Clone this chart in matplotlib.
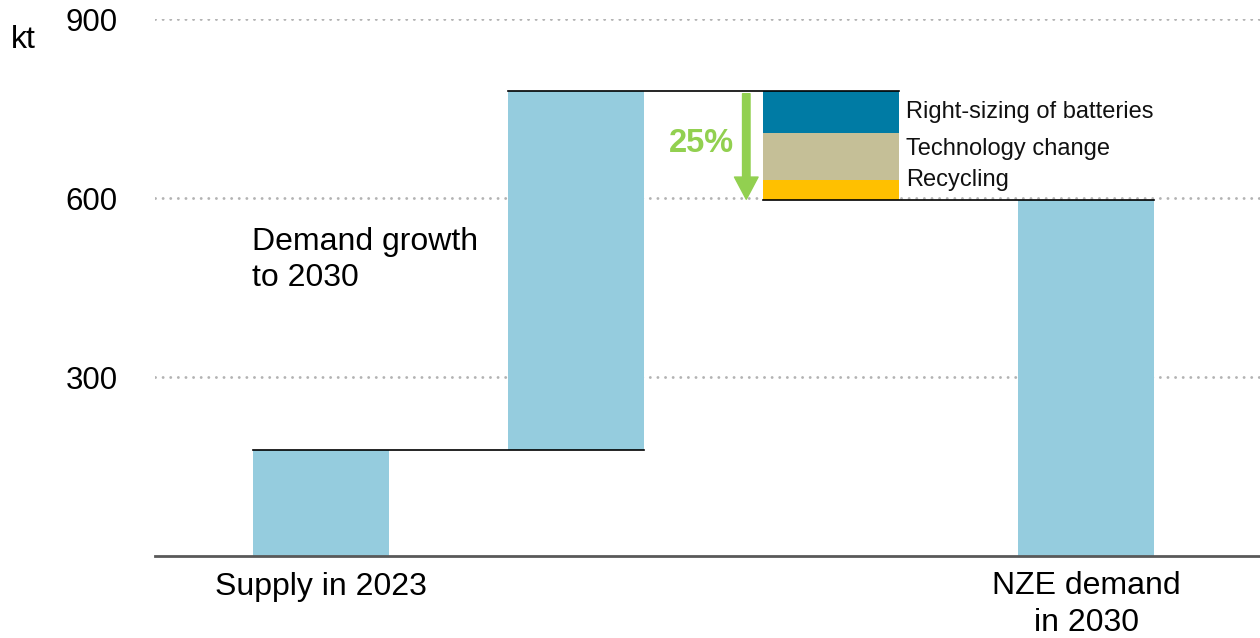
import matplotlib.pyplot as plt

plt.rcParams["font.family"] = ["Liberation Sans", "DejaVu Sans"]

# Waterfall values (kt)
supply_2023 = 178
demand_growth = 601
reduction_labels = ["Right-sizing of batteries", "Technology change", "Recycling"]
reduction_values = [70, 78, 34]
reduction_colors = ["#007BA4", "#C5BF97", "#FFC000"]
nze_2030 = 597
reduction_pct = "25%"

yticks = [300, 600, 900]
light_blue = "#95CCDE"
green = "#92D050"

fig = plt.figure(figsize=(12.6, 6.38), dpi=100)
ax = fig.add_axes([0.123, 0.1285, 0.877, 0.8415])

width = 0.533
peak = supply_2023 + demand_growth

# main bars
ax.bar(0, supply_2023, width=width, color=light_blue, zorder=2)
ax.bar(1, demand_growth, bottom=supply_2023, width=width, color=light_blue, zorder=2)
ax.bar(3, nze_2030, width=width, color=light_blue, zorder=2)

# stacked reductions, top to bottom
top = peak
label_offsets = [0, 12, 17]
for lab, val, col, off in zip(reduction_labels, reduction_values, reduction_colors, label_offsets):
    ax.bar(2, val, bottom=top - val, width=width, color=col, zorder=2)
    ax.text(2 + width / 2 + 0.025, top - val / 2 + off, lab, fontsize=17,
            va="center", ha="left", color="#111111")
    top -= val

# connector lines
hw = width / 2
ax.plot([0 - hw, 1 + hw], [supply_2023, supply_2023], color="black", lw=1.2, zorder=3)
ax.plot([1 - hw, 2 + hw], [peak, peak], color="black", lw=1.2, zorder=3)
ax.plot([2 - hw, 3 + hw], [nze_2030, nze_2030], color="black", lw=1.2, zorder=3)

# reduction arrow
ax.annotate("", xy=(1.667, nze_2030 + 1), xytext=(1.667, peak - 4),
            arrowprops=dict(width=5.4, headwidth=17, headlength=16,
                            color=green, shrink=0), zorder=4)
ax.text(1.492, 692, reduction_pct, color=green, fontsize=23.5, fontweight="bold",
        ha="center", va="center")

ax.text(-0.27, 496, "Demand growth\nto 2030", fontsize=23, ha="left", va="center",
        linespacing=1.25)

# axes styling
ax.set_xlim(-0.65, 3.68)
ax.set_ylim(0, 900)
ax.set_yticks(yticks)
ax.set_yticklabels([str(t) for t in yticks], fontsize=22.5)
ax.tick_params(axis="y", length=0, pad=27)
ax.set_xticks([])
for yv in yticks:
    ax.axhline(yv, color="#B3B3B3", lw=2.1, ls=(0, (0.01, 2.6)),
               dash_capstyle="round", zorder=1)
for s in ["top", "right", "left"]:
    ax.spines[s].set_visible(False)
ax.spines["bottom"].set_color("#595959")
ax.spines["bottom"].set_linewidth(2)
ax.spines["bottom"].set_zorder(5)

ax.text(0, -52, "Supply in 2023", fontsize=23, ha="center", va="center",
        clip_on=False)
ax.text(3, -81, "NZE demand\nin 2030", fontsize=23, ha="center", va="center",
        linespacing=1.33, clip_on=False)
fig.text(23 / 1260, 1 - 40 / 638, "kt", fontsize=23, ha="center", va="center")

fig.savefig("out.png", dpi=100, facecolor="white")
